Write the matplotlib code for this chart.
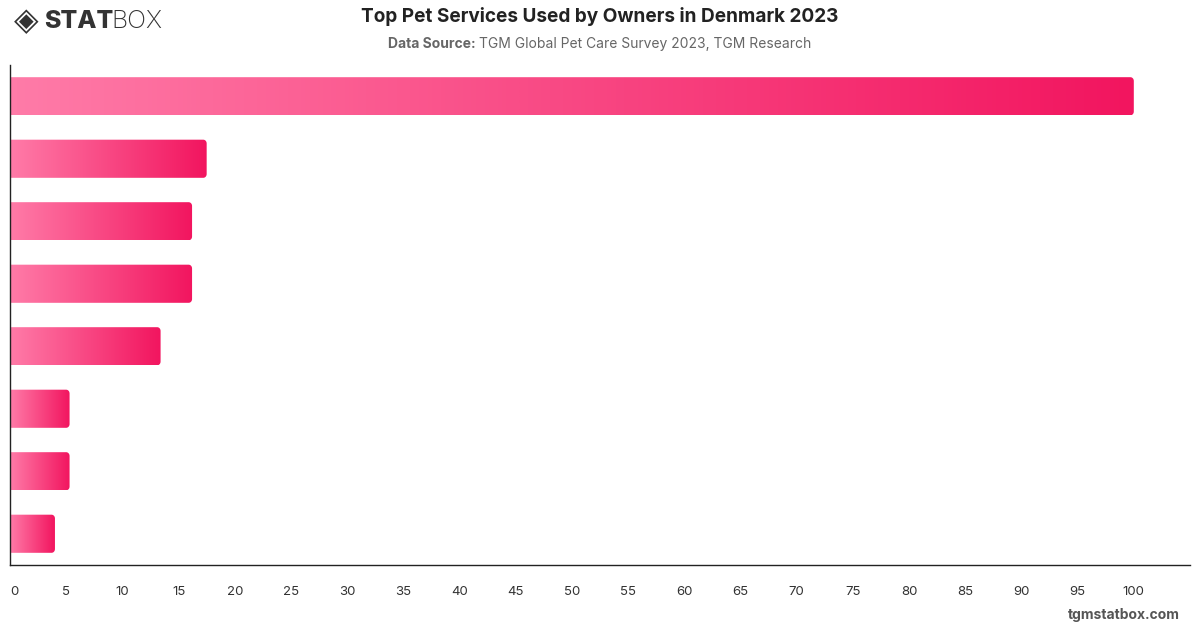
import matplotlib.pyplot as plt
import numpy as np
from matplotlib.colors import LinearSegmentedColormap
from matplotlib.patches import PathPatch
from matplotlib.path import Path

plt.rcParams["font.family"] = ["Inter", "DejaVu Sans"]

title = "Top Pet Services Used by Owners in Denmark 2023"
source = "TGM Global Pet Care Survey 2023, TGM Research"

# share of owners, top to bottom (category labels are not shown in the chart)
values = [100, 17.5, 16.2, 16.2, 13.4, 5.3, 5.3, 4.0]
x_ticks = list(range(0, 101, 5))

cmap = LinearSegmentedColormap.from_list("pink", ["#ff7ba8", "#f2155f"])
grad = np.linspace(0, 1, 256).reshape(1, -1)


def right_rounded(x0, x1, y0, y1, rx, ry, n=8):
    t = np.linspace(0, np.pi / 2, n)
    pts = [(x0, y0)]
    pts += [(x1 - rx + rx * np.sin(a), y0 + ry - ry * np.cos(a)) for a in t]
    pts += [(x1 - rx + rx * np.cos(a), y1 - ry + ry * np.sin(a)) for a in t]
    pts += [(x0, y1), (x0, y0)]
    codes = [Path.MOVETO] + [Path.LINETO] * (len(pts) - 2) + [Path.CLOSEPOLY]
    return Path(pts, codes)


fig = plt.figure(figsize=(12, 6.28), dpi=100)
ax = fig.add_axes([10 / 1200, 63 / 628, 1180 / 1200, 500 / 628])

xmax = 105.0
n = len(values)
bar_h = 0.61

for i, v in enumerate(values):
    y0, y1 = i - bar_h / 2, i + bar_h / 2
    im = ax.imshow(grad, cmap=cmap, aspect="auto", extent=(0, v, y1, y0),
                   interpolation="bicubic", zorder=2)
    patch = PathPatch(right_rounded(0, v, y0, y1, 0.3, 0.06),
                      facecolor="none", edgecolor="none", transform=ax.transData)
    ax.add_patch(patch)
    im.set_clip_path(patch)

ax.set_xlim(0, xmax)
ax.set_ylim(n - 0.5, -0.5)
ax.set_yticks([])
ax.set_xticks(x_ticks)
ax.set_xticklabels([str(t) for t in x_ticks], fontsize=9.5, color="#333333")
ax.get_xticklabels()[0].set_horizontalalignment("left")
ax.tick_params(axis="x", length=0, pad=15)
for s in ["top", "right"]:
    ax.spines[s].set_visible(False)
for s in ["left", "bottom"]:
    ax.spines[s].set_color("#222222")
    ax.spines[s].set_linewidth(1.0)

fig.text(0.5, 1 - 17 / 628, title, ha="center", va="center",
         fontsize=13.7, fontweight="bold", color="#222222")

# subtitle: bold label + normal text, centred as one line
renderer = fig.canvas.get_renderer()
lab = fig.text(0, 1 - 44 / 628, "Data Source: ", ha="left", va="center",
               fontsize=10, fontweight="bold", color="#666666")
src = fig.text(0, 1 - 44 / 628, source, ha="left", va="center",
               fontsize=10, color="#666666")
w1 = lab.get_window_extent(renderer).width
w2 = src.get_window_extent(renderer).width
start = 600 - (w1 + w2) / 2
lab.set_x(start / 1200)
src.set_x((start + w1) / 1200)

# logo
fig.text(14 / 1200, 1 - 22 / 628, "◈", ha="left", va="center",
         fontsize=23, color="#333333", family="DejaVu Sans")
fig.text(44 / 1200, 1 - 22 / 628, "STAT", ha="left", va="center",
         fontsize=18, fontweight="heavy", color="#333333")
fig.text(111 / 1200, 1 - 22 / 628, "BOX", ha="left", va="center",
         fontsize=18, fontweight="light", color="#333333")

fig.text(1180 / 1200, 1 - 615 / 628, "tgmstatbox.com", ha="right", va="center",
         fontsize=10, fontweight="bold", color="#555555")

fig.savefig("out.png", dpi=100)
